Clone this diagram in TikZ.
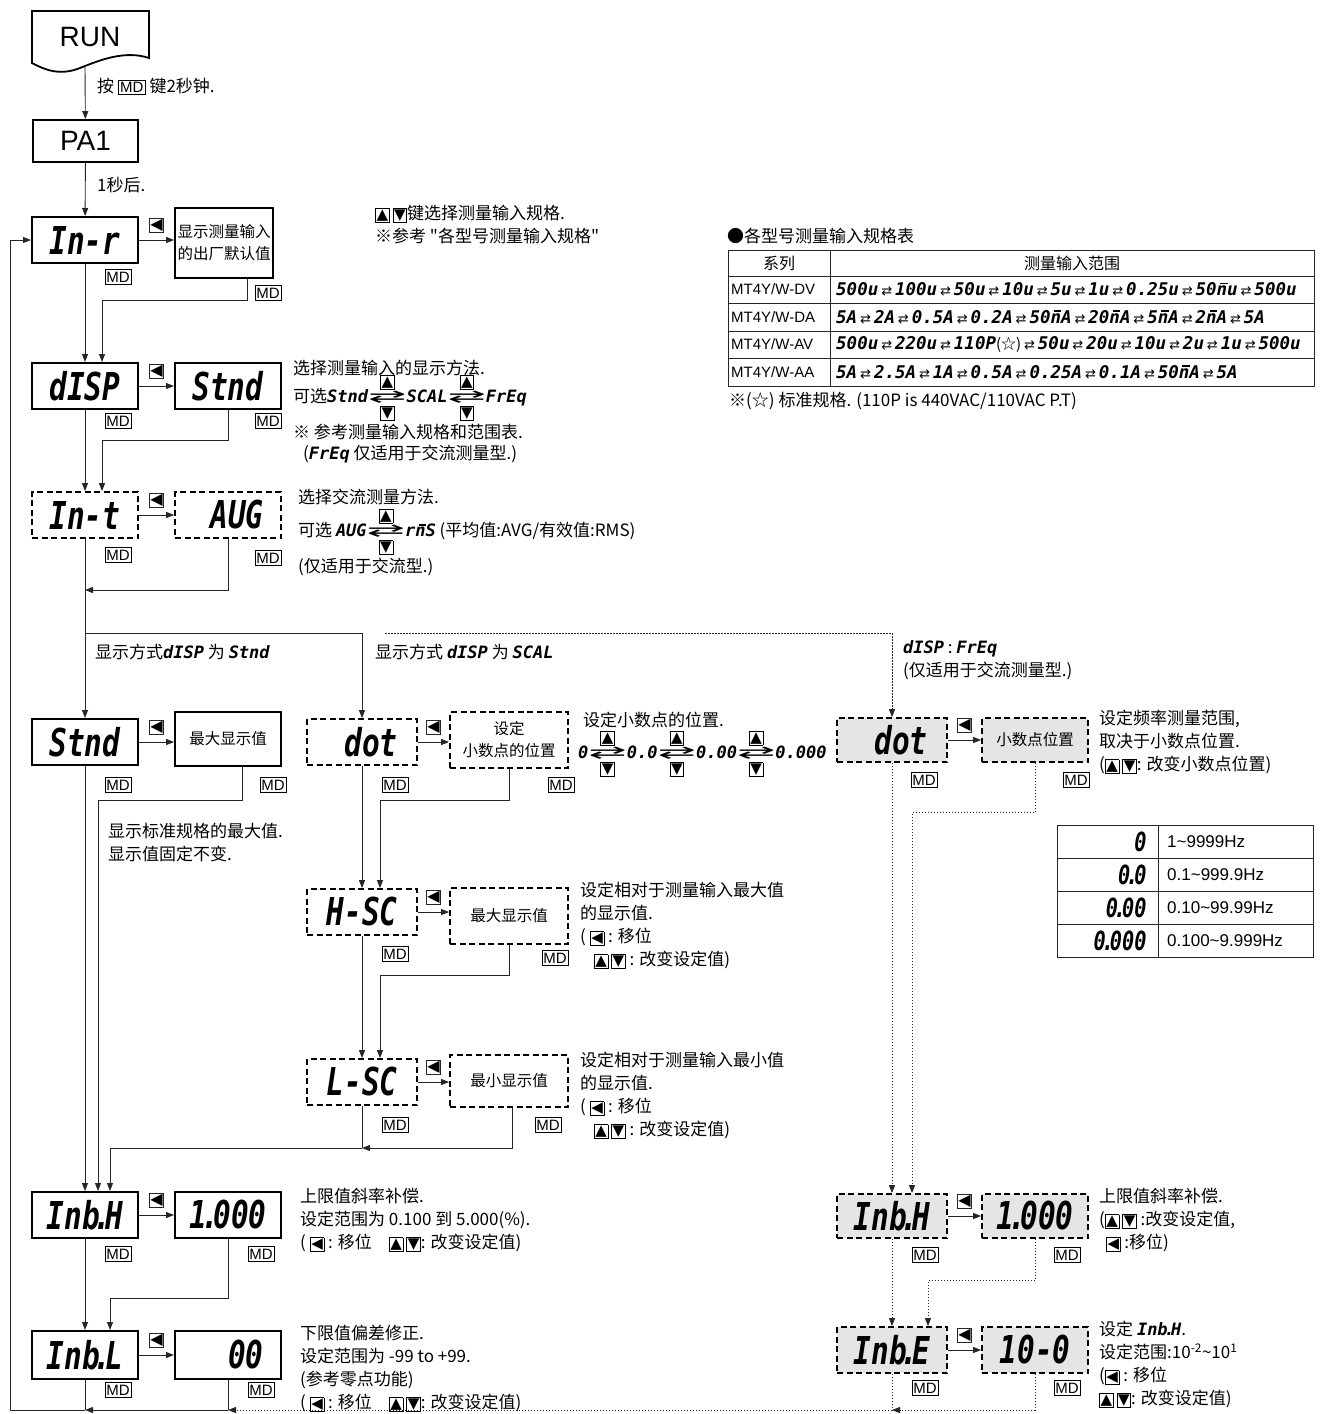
\documentclass[tikz,border=0pt]{standalone}
\usepackage{amsmath,amssymb,graphicx}
\usepackage{fontspec}
\setmainfont{Noto Sans CJK SC}
\newfontfamily\arial{Liberation Sans}
\newfontfamily\dv{DejaVu Sans}
\newfontfamily\seg{DejaVu Sans Mono}
\usetikzlibrary{positioning, arrows.meta}

\newcommand{\kbox}[1]{{\setlength{\fboxsep}{0.8pt}\setlength{\fboxrule}{0.7pt}\fbox{\dv\fontsize{15}{15}\selectfont #1}}}
\newcommand{\kL}{\kbox{◀}}
\newcommand{\kU}{\kbox{▲}}
\newcommand{\kD}{\kbox{▼}}
\newcommand{\md}{{\setlength{\fboxsep}{1.5pt}\setlength{\fboxrule}{0.7pt}\fbox{\arial\fontsize{15}{15}\selectfont MD}}}
\newcommand{\sg}[1]{{\seg\bfseries\itshape #1}}
\newcommand{\sv}[1]{\scalebox{0.92}[1.2]{\seg\bfseries\itshape #1}}
\newcommand{\sdot}{\kern-0.2em.\kern-0.2em}
\newcommand{\nbar}{\rlap{\kern0.2em\raisebox{0.66em}{\rule{0.42em}{0.08em}}}n}
\newcommand{\sw}{\,{\dv\fontsize{13}{13}\selectfont ⇄}\,}
\newcommand{\kswap}{\ensuremath{\mathrel{\underset{\kD}{\overset{\kU}{\text{\scalebox{2.7}[1]{\dv ⇄}}}}}}}

\tikzset{
    disp/.style = {draw, line width=2pt, minimum width=106pt, minimum height=46pt, inner sep=0pt, font=\fontsize{32}{32}\selectfont},
    dispd/.style = {disp, line width=1.8pt, dash pattern=on 6pt off 3.5pt},
    dispg/.style = {dispd, fill=black!10},
    valbox/.style = {draw, line width=1.8pt, inner sep=0pt, align=center, font=\fontsize{15.5}{22}\selectfont},
    valboxd/.style = {valbox, dash pattern=on 6pt off 3.5pt},
    valboxg/.style = {valboxd, fill=black!10},
    arrowkey/.style = {draw, line width=0.7pt, inner sep=0.8pt, font=\dv\fontsize{16}{16}\selectfont},
    mdkey/.style = {draw, line width=0.7pt, inner xsep=1.3pt, inner ysep=2.4pt, font=\arial\fontsize{15}{15}\selectfont},
    note/.style = {anchor=west, inner sep=0pt, align=left, font=\fontsize{17}{23}\selectfont},
    notes/.style = {note, anchor=north west},
    flow/.style = {draw=black!85, line width=0.9pt, -{Triangle[length=8pt,width=6pt]}},
    dflow/.style = {flow, dash pattern=on 1.5pt off 1.5pt},
    link/.style = {draw=black!85, line width=0.9pt},
    dlink/.style = {link, dash pattern=on 1.5pt off 1.5pt},
}

\begin{document}
\begin{tikzpicture}[x=1pt, y=-1pt]
\useasboundingbox (0,0) rectangle (1322,1414);

% start
\draw[line width=1.8pt] (32,11) -- (149,11) -- (149,58) .. controls (125,50) and (100,60) .. (80,68) .. controls (60,76) and (45,70) .. (32,63) -- cycle;
\node[font=\arial\fontsize{28}{28}\selectfont] (run) at (90,37) {RUN};
\coordinate (runb) at (85,67);
\node[draw, line width=1.8pt, minimum width=105pt, minimum height=42pt, font=\arial\fontsize{28}{28}\selectfont] (pa1) at (85.5,141) {PA1};
\draw[flow] (runb) -- (pa1);
\node[note] (trun) at (97,86) {按 \md\ 键2秒钟.};
\node[note] (tpa1) at (97,185) {1秒后.};

% In-r
\node[disp] (inr) at (85,240) {\sv{In-r}};
\node[valbox, minimum width=98pt, minimum height=70pt] (inrv) at (224,243) {显示测量输入\\的出厂默认值};
\draw[flow] (pa1) -- (inr);
\draw[flow] (inr.east) -- (inr.east -| inrv.west) node[arrowkey, midway, above=7pt] (kinr) {◀};
\node[mdkey] (mdinr) at (118,277) {MD};
\node[mdkey] (mdinrv) at (268,293) {MD};
\node[notes] (tinr) at (375,205) {\kU\,\kD{}键选择测量输入规格.\\※参考 \textquotedbl 各型号测量输入规格\textquotedbl};

% dISP
\node[disp] (disp) at (85,386) {\sv{dISP}};
\node[disp] (dispv) at (228,386) {\sv{Stnd}};
\draw[flow] (inr) -- (disp);
\draw[flow] ([xshift=23pt]inrv.south) -- ++(0,22) -| ([xshift=17pt]disp.north);
\draw[flow] (disp) -- (dispv) node[arrowkey, midway, above=7pt] (kdisp) {◀};
\node[mdkey] (mddisp) at (118,421) {MD};
\node[mdkey] (mddispv) at (268,421) {MD};
\node[note] (tdisp1) at (293,368) {选择测量输入的显示方法.};
\node[note] (tdisp2) at (293,398) {可选\sg{Stnd}\kswap\sg{SCAL}\kswap\sg{FrEq}};
\node[note] (tdisp3) at (293,432) {※ 参考测量输入规格和范围表.};
\node[note] (tdisp4) at (303,454) {(\sg{FrEq} 仅适用于交流测量型.)};

% In-t
\node[dispd] (int) at (85,515) {\sv{In-t}};
\node[dispd] (aug) at (228,515) {\sv{\phantom{0}AUG}};
\draw[flow] (disp) -- (int);
\draw[flow] (dispv.south) -- ++(0,30) -| ([xshift=17pt]int.north);
\draw[flow] (int) -- (aug) node[arrowkey, midway, above=7pt] (kint) {◀};
\node[mdkey] (mdint) at (118,555) {MD};
\node[mdkey] (mdaug) at (268,558) {MD};
\node[note] (tint1) at (298,497) {选择交流测量方法.};
\node[note] (tint2) at (298,532) {可选 \sg{AUG}\kswap\sg{r\nbar S} (平均值:AVG/有效值:RMS)};
\node[note] (tint3) at (298,567) {(仅适用于交流型.)};
\coordinate (jaug) at (85,590);
\draw[flow] (aug.south) |- (jaug);

\coordinate (jbr) at (85,633);
\coordinate (jfr) at (385,633);
\node[note] (tbr1) at (95,652) {显示方式\sg{dISP} 为 \sg{Stnd}};
\node[note] (tbr2) at (375,652) {显示方式 \sg{dISP} 为 \sg{SCAL}};
\node[notes] (tfreq) at (903,640) {\sg{dISP} : \sg{FrEq}\\(仅适用于交流测量型.)};

% Stnd
\node[disp] (stnd) at (85,742) {\sv{Stnd}};
\node[valbox, minimum width=106pt, minimum height=54pt] (maxv) at (228,739) {最大显示值};
\draw[flow] (int) -- (stnd);
\draw[flow] (stnd) -- (maxv.west |- stnd.east) node[arrowkey, midway, above=7pt] (kstnd) {◀};
\node[mdkey] (mdstnd) at (118,785) {MD};
\node[mdkey] (mdmaxv) at (273,785) {MD};
\node[notes] (tstnd) at (108,823) {显示标准规格的最大值.\\显示值固定不变.};

% dot
\node[dispd, minimum width=110pt] (dot) at (362,742) {\sv{\phantom{0}dot}};
\node[valboxd, minimum width=118pt, minimum height=56pt] (dotv) at (509,740) {设定\\小数点的位置};
\draw[flow] (jbr) -| (dot.north);
\draw[flow] (dot) -- (dot.east -| dotv.west) node[arrowkey, midway, above=7pt] (kdot) {◀};
\node[mdkey] (mddot) at (395,785) {MD};
\node[mdkey] (mddotv) at (561,785) {MD};
\node[note] (tdot1) at (583,720) {设定小数点的位置.};
\node[note] (tdot2) at (578,754) {\sg{0}\kswap\sg{0.0}\kswap\sg{0.00}\kswap\sg{0.000}};

% H-SC
\node[dispd, minimum width=110pt] (hsc) at (362,912) {\sv{H-SC}};
\node[valboxd, minimum width=118pt, minimum height=56pt] (hscv) at (509,916) {最大显示值};
\draw[flow] (dot) -- (hsc);
\draw[flow] (dotv.south) -- ++(0,32) -| ([xshift=18pt]hsc.north);
\draw[flow] (hsc) -- (hsc.east -| hscv.west) node[arrowkey, midway, above=7pt] (khsc) {◀};
\node[mdkey] (mdhsc) at (395,954) {MD};
\node[mdkey] (mdhscv) at (555,958) {MD};
\node[notes] (thsc) at (580,882) {设定相对于测量输入最大值\\的显示值.\\( \kL\ : 移位\\\hspace*{0.8em}\kU\,\kD\ : 改变设定值)};

% L-SC
\node[dispd, minimum width=110pt] (lsc) at (362,1082) {\sv{L-SC}};
\node[valboxd, minimum width=118pt, minimum height=52pt] (lscv) at (509,1081) {最小显示值};
\draw[flow] (hsc) -- (lsc);
\draw[flow] (hscv.south) -- ++(0,31) -| ([xshift=18pt]lsc.north);
\draw[flow] (lsc) -- (lsc.east -| lscv.west) node[arrowkey, midway, above=7pt] (klsc) {◀};
\node[mdkey] (mdlsc) at (395,1125) {MD};
\node[mdkey] (mdlscv) at (548,1125) {MD};
\node[notes] (tlsc) at (580,1052) {设定相对于测量输入最小值\\的显示值.\\( \kL\ : 移位\\\hspace*{0.8em}\kU\,\kD\ : 改变设定值)};
\coordinate (jlsc) at (362,1148);
\draw[link] (lsc) -- (jlsc);
\draw[flow] ([xshift=3pt]lscv.south) |- (jlsc);

% In bH
\node[disp] (inbh) at (85,1215) {\sv{Inb\sdot H}};
\node[disp] (inbhv) at (228,1215) {\sv{1\sdot 000}};
\draw[flow] (stnd) -- (inbh);
\draw[flow] ([xshift=14pt]maxv.south) -- ++(0,34) -| ([xshift=13pt]inbh.north);
\draw[flow] (jlsc) -| ([xshift=25pt]inbh.north);
\draw[flow] (inbh) -- (inbhv) node[arrowkey, midway, above=7pt] (kinbh) {◀};
\node[mdkey] (mdinbh) at (118,1254) {MD};
\node[mdkey] (mdinbhv) at (261,1254) {MD};
\node[notes] (tinbh) at (300,1188) {上限值斜率补偿.\\设定范围为 0.100 到 5.000(\%).\\( \kL\ : 移位\quad\kU\,\kD: 改变设定值)};

% In bL
\node[disp, minimum height=48pt] (inbl) at (85,1355) {\sv{Inb\sdot L}};
\node[disp, minimum height=48pt] (inblv) at (228,1355) {\sv{\phantom{00}00}};
\draw[flow] (inbh) -- (inbl);
\draw[flow] (inbhv.south) -- ++(0,59) -| ([xshift=25pt]inbl.north);
\draw[flow] (inbl) -- (inblv) node[arrowkey, midway, above=7pt] (kinbl) {◀};
\node[mdkey] (mdinbl) at (118,1390) {MD};
\node[mdkey] (mdinblv) at (261,1390) {MD};
\node[notes] (tinbl) at (300,1325) {下限值偏差修正.\\设定范围为 -99 to +99.\\(参考零点功能)\\( \kL\ : 移位\quad\kU\,\kD: 改变设定值)};

% return
\coordinate (jl) at (85,1410);
\coordinate (jr) at (228,1410);
\coordinate (jc) at (10,1410);
\draw[link] (inbl) -- (jl);
\draw[link] (inblv) -- (jr);
\draw[flow] (jr) -- (jl);
\draw[flow] (jl) -- (jc) |- (inr.west);

% frequency branch
\node[dispg, minimum width=110pt, minimum height=44pt] (fdot) at (892,740) {\sv{\phantom{0}dot}};
\node[valboxg, minimum width=106pt, minimum height=44pt] (fdotv) at (1035,740) {小数点位置};
\draw[dflow] (jfr) -| (fdot.north);
\draw[flow] (fdot) -- (fdotv) node[arrowkey, midway, above=7pt] (kfdot) {◀};
\node[mdkey] (mdfdot) at (924,780) {MD};
\node[mdkey] (mdfdotv) at (1076,780) {MD};
\node[notes] (tfdot) at (1099,710) {设定频率测量范围,\\取决于小数点位置.\\(\kU\,\kD: 改变小数点位置)};

\node[dispg, minimum width=110pt, minimum height=44pt] (finbh) at (892,1216) {\sv{Inb\sdot H}};
\node[dispg, minimum height=44pt] (finbhv) at (1035,1216) {\sv{1\sdot 000}};
\draw[dflow] (fdot) -- (finbh);
\draw[dflow] (fdotv.south) -- ++(0,50) -| ([xshift=20pt]finbh.north);
\draw[flow] (finbh) -- (finbhv) node[arrowkey, midway, above=7pt] (kfinbh) {◀};
\node[mdkey] (mdfinbh) at (925,1255) {MD};
\node[mdkey] (mdfinbhv) at (1067,1255) {MD};
\node[notes] (tfinbh) at (1099,1188) {上限值斜率补偿.\\(\kU\,\kD\ :改变设定值,\\\hspace*{0.4em}\kL\ :移位)};

\node[dispg, minimum width=110pt] (finbe) at (892,1350) {\sv{Inb\sdot E}};
\node[dispg] (finbev) at (1035,1350) {\sv{10-0}};
\draw[dflow] (finbh) -- (finbe);
\draw[dflow] (finbhv.south) -- ++(0,42) -| ([xshift=36pt]finbe.north);
\draw[flow] (finbe) -- (finbev) node[arrowkey, midway, above=7pt] (kfinbe) {◀};
\node[mdkey] (mdfinbe) at (925,1388) {MD};
\node[mdkey] (mdfinbev) at (1067,1388) {MD};
\node[notes] (tfinbe) at (1099,1321) {设定 \sg{Inb\sdot H}.\\设定范围:10\textsuperscript{-2}\textasciitilde10\textsuperscript{1}\\(\kL\ : 移位\\\kU\,\kD: 改变设定值)};
\coordinate (jfl) at (892,1410);
\draw[dlink] (finbe) -- (jfl);
\draw[dflow] (finbev.south) |- (jfl);
\draw[dflow] (jfl) -- (jr);

% input spec table
\node[note] (ttbl) at (727,236) {●各型号测量输入规格表};
\draw[link, line width=0.8pt] (728,250) rectangle (1314,386);
\foreach \y in {276,303,331,358}
    \draw[link, line width=0.8pt] (728,\y) -- (1314,\y);
\draw[link, line width=0.8pt] (830,250) -- (830,386);
\node[font=\fontsize{16}{16}\selectfont] (th1) at (779,263) {系列};
\node[font=\fontsize{16}{16}\selectfont] (th2) at (1072,263) {测量输入范围};
\node[note, font=\arial\fontsize{15}{15}\selectfont] (tm1) at (731,289.5) {MT4Y/W-DV};
\node[note, font=\arial\fontsize{15}{15}\selectfont] (tm2) at (731,317) {MT4Y/W-DA};
\node[note, font=\arial\fontsize{15}{15}\selectfont] (tm3) at (731,344.5) {MT4Y/W-AV};
\node[note, font=\arial\fontsize{15}{15}\selectfont] (tm4) at (731,372) {MT4Y/W-AA};
\node[note, font=\fontsize{17.5}{17.5}\selectfont] (tr1) at (836,289.5) {\sg{500u}\sw\sg{100u}\sw\sg{50u}\sw\sg{10u}\sw\sg{5u}\sw\sg{1u}\sw\sg{0.25u}\sw\sg{50\nbar u}\sw\sg{500u}};
\node[note, font=\fontsize{17.5}{17.5}\selectfont] (tr2) at (836,317) {\sg{5A}\sw\sg{2A}\sw\sg{0.5A}\sw\sg{0.2A}\sw\sg{50\nbar A}\sw\sg{20\nbar A}\sw\sg{5\nbar A}\sw\sg{2\nbar A}\sw\sg{5A}};
\node[note, font=\fontsize{17.5}{17.5}\selectfont] (tr3) at (836,344.5) {\sg{500u}\sw\sg{220u}\sw\sg{110P}{\fontsize{15}{15}\selectfont(☆)}\sw\sg{50u}\sw\sg{20u}\sw\sg{10u}\sw\sg{2u}\sw\sg{1u}\sw\sg{500u}};
\node[note, font=\fontsize{17.5}{17.5}\selectfont] (tr4) at (836,372) {\sg{5A}\sw\sg{2.5A}\sw\sg{1A}\sw\sg{0.5A}\sw\sg{0.25A}\sw\sg{0.1A}\sw\sg{50\nbar A}\sw\sg{5A}};
\node[note] (tfoot) at (729,401) {※(☆) 标准规格. (110P is 440VAC/110VAC P.T)};

% frequency range table
\draw[link, line width=0.8pt] (1057,825) rectangle (1313,957);
\foreach \y in {858,891,924}
    \draw[link, line width=0.8pt] (1057,\y) -- (1313,\y);
\draw[link, line width=0.8pt] (1158,825) -- (1158,957);
\node[anchor=east, font=\fontsize{22}{22}\selectfont] (fr1) at (1150,841.5) {\sv{0}};
\node[anchor=east, font=\fontsize{22}{22}\selectfont] (fr2) at (1150,874.5) {\sv{0\sdot 0}};
\node[anchor=east, font=\fontsize{22}{22}\selectfont] (fr3) at (1150,907.5) {\sv{0\sdot 00}};
\node[anchor=east, font=\fontsize{22}{22}\selectfont] (fr4) at (1150,940.5) {\sv{0\sdot 000}};
\node[note, font=\arial\fontsize{17}{17}\selectfont] (fh1) at (1167,841.5) {1\textasciitilde9999Hz};
\node[note, font=\arial\fontsize{17}{17}\selectfont] (fh2) at (1167,874.5) {0.1\textasciitilde999.9Hz};
\node[note, font=\arial\fontsize{17}{17}\selectfont] (fh3) at (1167,907.5) {0.10\textasciitilde99.99Hz};
\node[note, font=\arial\fontsize{17}{17}\selectfont] (fh4) at (1167,940.5) {0.100\textasciitilde9.999Hz};
\end{tikzpicture}
\end{document}
